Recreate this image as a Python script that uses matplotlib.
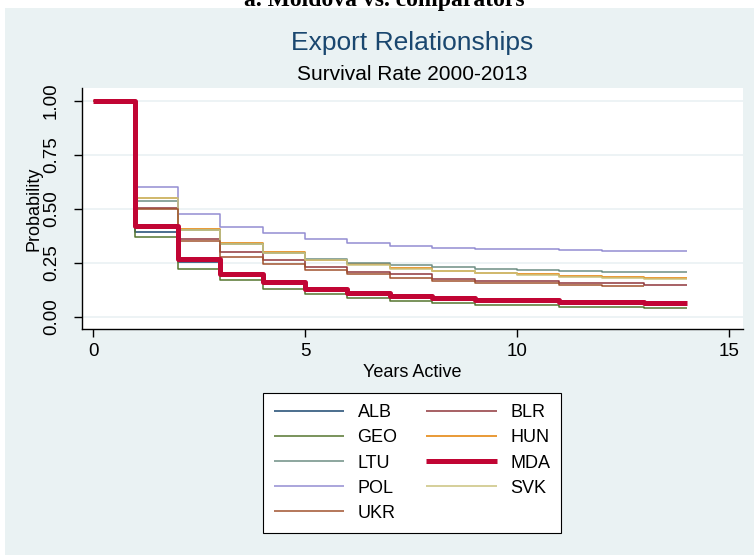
import matplotlib.pyplot as plt
from matplotlib.patches import Rectangle

# years active (survival read at the start of each year)
years = list(range(15))

alb = [1.0, 0.393, 0.255, 0.196, 0.160, 0.130, 0.114, 0.099, 0.090, 0.082, 0.078, 0.073, 0.069, 0.068, 0.068]
blr = [1.0, 0.506, 0.363, 0.302, 0.262, 0.233, 0.208, 0.198, 0.174, 0.167, 0.164, 0.159, 0.157, 0.150, 0.150]
geo = [1.0, 0.370, 0.224, 0.171, 0.131, 0.105, 0.087, 0.074, 0.066, 0.057, 0.056, 0.048, 0.046, 0.042, 0.042]
hun = [1.0, 0.552, 0.409, 0.340, 0.299, 0.263, 0.243, 0.226, 0.212, 0.205, 0.198, 0.190, 0.187, 0.182, 0.182]
ltu = [1.0, 0.538, 0.403, 0.338, 0.298, 0.269, 0.251, 0.241, 0.231, 0.222, 0.218, 0.213, 0.210, 0.208, 0.208]
mda = [1.0, 0.423, 0.267, 0.199, 0.163, 0.130, 0.113, 0.097, 0.088, 0.080, 0.076, 0.071, 0.067, 0.066, 0.066]
pol = [1.0, 0.602, 0.478, 0.418, 0.387, 0.361, 0.341, 0.330, 0.321, 0.315, 0.313, 0.310, 0.307, 0.306, 0.306]
svk = [1.0, 0.549, 0.403, 0.339, 0.298, 0.262, 0.241, 0.224, 0.211, 0.204, 0.193, 0.185, 0.179, 0.174, 0.174]
ukr = [1.0, 0.498, 0.350, 0.279, 0.244, 0.216, 0.198, 0.182, 0.165, 0.159, 0.156, 0.150, 0.142, 0.142]

names = ["ALB", "BLR", "GEO", "HUN", "LTU", "MDA", "POL", "SVK", "UKR"]
series = [alb, blr, geo, hun, ltu, mda, pol, svk, ukr]
colors = ["#1a476f", "#90353b", "#55752f", "#e37e00", "#6e8e84",
          "#c10534", "#938dd2", "#cac27e", "#a0522d"]

plt.rcParams["font.family"] = ["Liberation Sans", "DejaVu Sans"]

fig = plt.figure(figsize=(7.54, 5.55), dpi=100)
fig.patch.set_facecolor("white")
bg = Rectangle((5 / 754, 0), 1, (555 - 8) / 555, transform=fig.transFigure,
               facecolor="#eaf2f3", edgecolor="none", zorder=-10)
fig.patches.append(bg)

fig.text(0.51, 1.0 - 6 / 555, "a. Moldova vs. comparators", ha="center", va="baseline",
         fontsize=17, fontweight="bold", family="Liberation Serif")
fig.text(412 / 754, 1 - 43 / 555, "Export Relationships", ha="center", va="center",
         fontsize=19, color="#1a476f")
fig.text(412 / 754, 1 - 74 / 555, "Survival Rate 2000-2013", ha="center", va="center",
         fontsize=15, color="black")

ax = fig.add_axes([82 / 754, 1 - 329 / 555, (743 - 82) / 754, (329 - 88) / 555])
ax.set_facecolor("white")

handles = {}
for name, vals, col in zip(names, series, colors):
    lw = 3.6 if name == "MDA" else 1.1
    z = 5 if name == "MDA" else 3
    h, = ax.plot(years[:len(vals)], vals, drawstyle="steps-post", color=col, lw=lw,
                 zorder=z, solid_capstyle="butt")
    handles[name] = h

ax.set_xlim(-0.26, 15.33)
ax.set_ylim(-0.056, 1.06)
ax.set_xticks([0, 5, 10, 15])
ax.set_yticks([0, 0.25, 0.5, 0.75, 1.0])
ax.set_yticklabels(["0.00", "0.25", "0.50", "0.75", "1.00"], rotation=90, va="center")
ax.tick_params(labelsize=13.5, length=6, width=1, direction="out")
ax.tick_params(axis="x", pad=4)
ax.tick_params(axis="y", pad=10)
ax.grid(axis="y", color="#e8f0f2", lw=1.1, zorder=1)
ax.set_axisbelow(True)
for s in ["top", "right"]:
    ax.spines[s].set_visible(False)
for s in ["left", "bottom"]:
    ax.spines[s].set_linewidth(1)
ax.set_xlabel("Years Active", fontsize=13, labelpad=3)
ax.set_ylabel("Probability", fontsize=13)
ax.yaxis.set_label_coords(-0.06, 0.5)

order = ["ALB", "GEO", "LTU", "POL", "UKR", "BLR", "HUN", "MDA", "SVK"]
leg = fig.legend([handles[n] for n in order], order, loc="center",
                 bbox_to_anchor=(412 / 754, 1 - 463 / 555), ncol=2, fontsize=13,
                 frameon=True, fancybox=False, edgecolor="black", facecolor="white",
                 framealpha=1, handlelength=3.9, handletextpad=0.75,
                 columnspacing=1.6, labelspacing=0.45, borderpad=0.6)
leg.get_frame().set_linewidth(0.8)

fig.savefig("out.png", dpi=100)
